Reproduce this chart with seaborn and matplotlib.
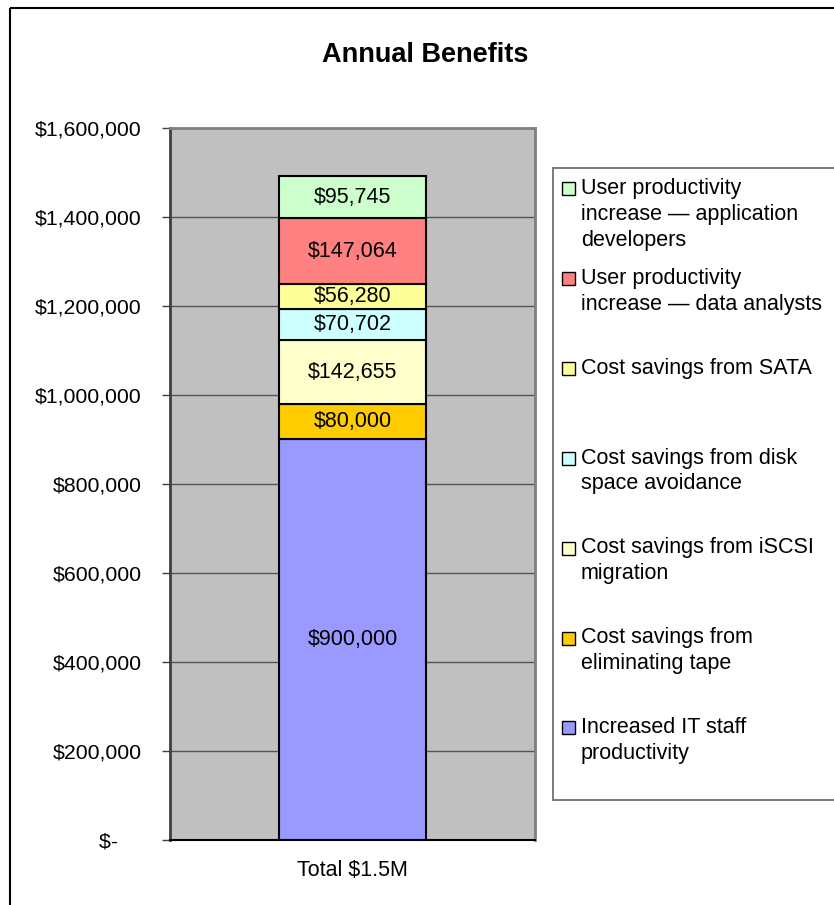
import matplotlib
matplotlib.use("Agg")
import matplotlib.pyplot as plt
import seaborn as sns
from matplotlib.patches import Rectangle
from matplotlib.ticker import FuncFormatter

# === 数据 ===
bar_label = "Total $1.5M"
categories = [
    "Increased IT staff\nproductivity",
    "Cost savings from\neliminating tape",
    "Cost savings from iSCSI\nmigration",
    "Cost savings from disk\nspace avoidance",
    "Cost savings from SATA",
    "User productivity\nincrease — data analysts",
    "User productivity\nincrease — application\ndevelopers",
]
values = [900000, 80000, 142655, 70702, 56280, 147064, 95745]
colors = ["#9999FF", "#FFCC00", "#FFFFCC", "#CCFFFF", "#FFFF99", "#FF8080", "#CCFFCC"]
y_ticks = [0, 200000, 400000, 600000, 800000, 1000000, 1200000, 1400000, 1600000]

sns.set_style("white")
plt.rcParams["font.family"] = ["Liberation Sans", "DejaVu Sans"]
plt.rcParams["text.color"] = "black"
plt.rcParams["axes.labelcolor"] = "black"

W, H = 834, 905
fig = plt.figure(figsize=(W / 100, H / 100), dpi=100)


def px(x, y):
    return x / W, 1 - y / H


# 外框
fig.patches.append(Rectangle(px(10, 8), (W + 10) / W, -(H + 10) / H, transform=fig.transFigure,
                             fill=False, edgecolor="black", linewidth=1.5, zorder=0))

ax = fig.add_axes([170 / W, 1 - 840 / H, 365 / W, 712 / H])
ax.set_facecolor("#C0C0C0")

# 堆叠柱
bottom = 0
for cat, val, col in zip(categories, values, colors):
    sns.barplot(x=[bar_label], y=[val], bottom=bottom, color=col, saturation=1,
                width=0.405, edgecolor="black", linewidth=1.5, errorbar=None, ax=ax)
    ax.bar_label(ax.containers[-1], labels=[f"${val:,.0f}"], label_type="center",
                 fontsize=15.5, color="black")
    bottom += val

ax.set_xlim(-0.5, 0.5)
ax.set_ylim(0, 1600000)
ax.set_yticks(y_ticks)
ax.yaxis.set_major_formatter(FuncFormatter(lambda v, _: "$-    " if v == 0 else f"${v:,.0f}"))
ax.set_xlabel("")
ax.set_ylabel("")

ax.set_axisbelow(True)
ax.yaxis.grid(True, color="#555555", linewidth=1)
ax.xaxis.grid(False)

ax.tick_params(axis="y", left=True, length=6, width=1, color="#404040", pad=14.4,
               labelsize=15.3, labelcolor="black", direction="out")
ax.tick_params(axis="x", bottom=False, length=0, pad=14.5, labelsize=15.5, labelcolor="black")

ax.spines["left"].set_color("#404040")
ax.spines["left"].set_linewidth(2)
ax.spines["bottom"].set_color("black")
ax.spines["bottom"].set_linewidth(1.5)
for s in ["top", "right"]:
    ax.spines[s].set_color("#808080")
    ax.spines[s].set_linewidth(2)

# 标题
fig.text(*px(425.5, 62), "Annual Benefits", fontsize=19.5, fontweight="bold",
         ha="center", va="baseline", color="black")

# 图例（Excel 式，条目等距）
lx0, ly0 = px(553, 168)
lx1, ly1 = px(W + 10, 800)
fig.patches.append(Rectangle((lx0, ly1), lx1 - lx0, ly0 - ly1, transform=fig.transFigure,
                             facecolor="white", edgecolor="#707070", linewidth=1.3, zorder=1))
slot = 89.8
for i, (cat, col) in enumerate(zip(categories[::-1], colors[::-1])):
    base = 194 + i * slot
    hx, hy = px(562, base + 1.5)
    fig.patches.append(Rectangle((hx, hy), 13 / W, 13 / H, transform=fig.transFigure,
                                 facecolor=col, edgecolor="black", linewidth=1, zorder=2))
    fig.text(*px(581, base - 15.7), cat, fontsize=15.5, ha="left", va="top",
             linespacing=1.3, color="black", zorder=3)

fig.savefig("out.png", dpi=100)
